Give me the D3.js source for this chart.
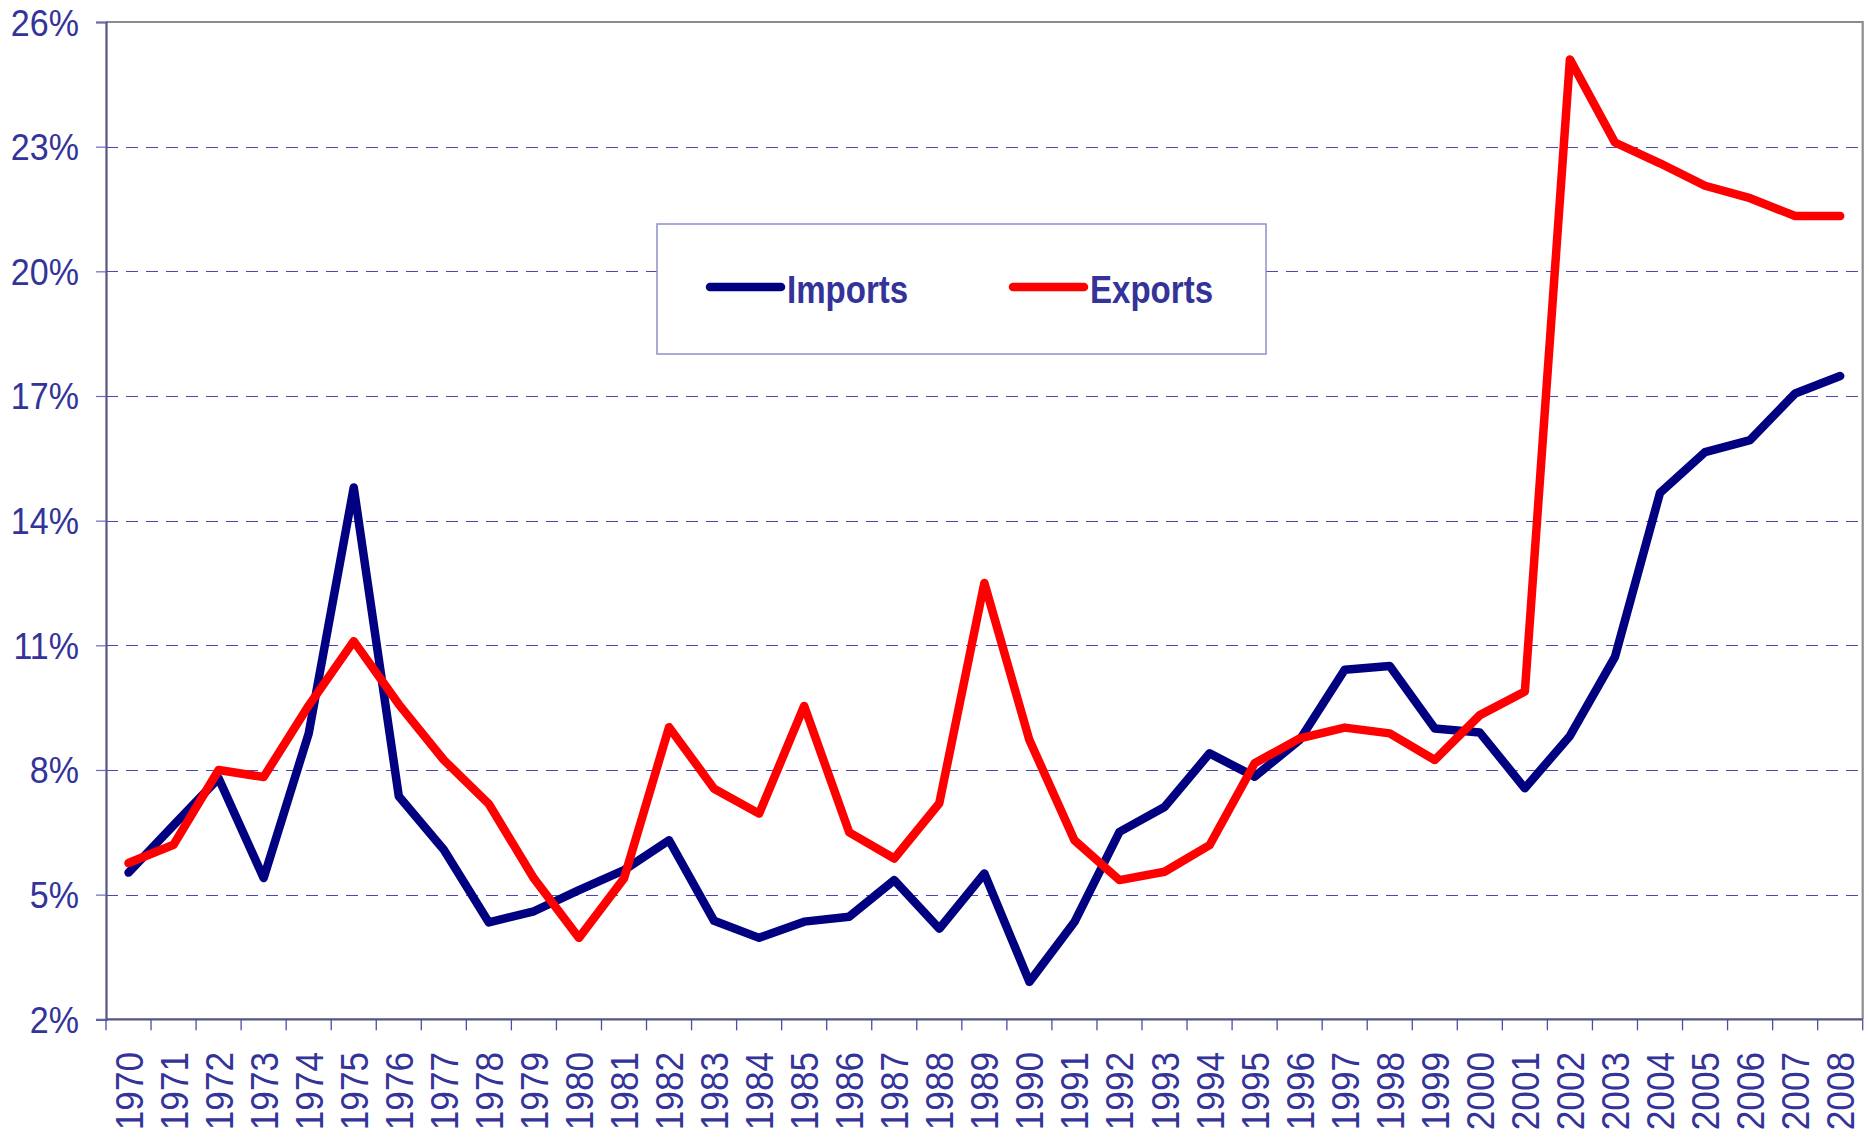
<!DOCTYPE html>
<html>
<head>
<meta charset="utf-8">
<script src="https://cdn.jsdelivr.net/npm/d3@7"></script>
<style>
html,body{margin:0;padding:0;background:#fff;}
svg{display:block;}
text{font-family:"Liberation Sans",Arial,sans-serif;fill:#333399;}
</style>
</head>
<body>
<svg id="chart" width="1869" height="1137"></svg>
<script>
const years = d3.range(1970, 2009).map(String);
const imports = [5.53, 6.67, 7.8, 5.4, 8.88, 14.8, 7.37, 6.08, 4.33, 4.6,
                 5.11, 5.59, 6.31, 4.37, 3.96, 4.35, 4.47, 5.35, 4.18, 5.51,
                 2.9, 4.34, 6.51, 7.11, 8.4, 7.84, 8.72, 10.41, 10.5, 9.0,
                 8.9, 7.56, 8.82, 10.72, 14.67, 15.65, 15.94, 17.06, 17.48];
const exports = [5.76, 6.2, 8.0, 7.83, 9.55, 11.1, 9.58, 8.24, 7.18, 5.39,
                 3.96, 5.39, 9.03, 7.55, 6.95, 9.54, 6.5, 5.87, 7.2, 12.5,
                 8.72, 6.31, 5.35, 5.55, 6.19, 8.16, 8.76, 9.02, 8.88, 8.24,
                 9.32, 9.89, 25.1, 23.1, 22.6, 22.06, 21.76, 21.33, 21.33];
const yTicks = [2, 5, 8, 11, 14, 17, 20, 23, 26];
const seriesNames = ["Imports", "Exports"];
const seriesColors = ["#000080", "#ff0000"];

const L = 106, R = 1862.7, T = 22, B = 1019.3;
const svg = d3.select("#chart");
const x = d3.scaleBand().domain(years).range([L, R]).padding(0);
const y = d3.scaleLinear().domain([2, 26]).range([B, T]);
const cx = d => x(d) + x.bandwidth() / 2;

// gridlines
svg.append("g").selectAll("line").data(yTicks.filter(v => v > 2 && v < 26)).join("line")
  .attr("x1", L).attr("x2", R)
  .attr("y1", d => Math.round(y(d)) + 0.5).attr("y2", d => Math.round(y(d)) + 0.5)
  .attr("stroke", "#4848b0").attr("stroke-width", 1.2).attr("stroke-dasharray", "12,8");

// top & right border
svg.append("path")
  .attr("d", `M${L},${T}H${R}V${B}`)
  .attr("fill", "none").attr("stroke", "#8c8c8c").attr("stroke-width", 2.2);

// y axis
const yAxis = d3.axisLeft(y).tickValues(yTicks).tickSize(10).tickFormat(d => d + "%");
const gy = svg.append("g").attr("transform", `translate(${L},0)`).call(yAxis);
gy.select(".domain").attr("stroke", "#555580").attr("stroke-width", 2.2);
gy.selectAll(".tick line").attr("stroke", "#6a6ac0").attr("stroke-width", 1.2);
gy.selectAll(".tick text")
  .attr("x", 0).attr("dy", null)
  .attr("transform", "translate(-27,13) scale(0.92,1)")
  .style("font-size", "37px").attr("fill", "#333399").attr("text-anchor", "end");

// x axis
const gx = svg.append("g").attr("transform", `translate(0,${B})`);
gx.append("line").attr("x1", L).attr("x2", R).attr("y1", 0).attr("y2", 0)
  .attr("stroke", "#555580").attr("stroke-width", 2.2);
gx.selectAll("line.tk").data(years.concat(["end"])).join("line").attr("class", "tk")
  .attr("x1", d => d === "end" ? R : x(d)).attr("x2", d => d === "end" ? R : x(d))
  .attr("y1", 0).attr("y2", 11)
  .attr("stroke", "#4a4ab0").attr("stroke-width", 1.3);
gx.selectAll("text").data(years).join("text")
  .attr("transform", d => `translate(${cx(d) + 14},${1052 - B}) rotate(-90) scale(0.89,1)`)
  .attr("text-anchor", "end")
  .style("font-size", "39.5px")
  .text(d => d);

// lines
const line = d3.line().x((d, i) => cx(years[i])).y(d => y(d));
[imports, exports].forEach((s, k) => {
  svg.append("path").datum(s)
    .attr("d", line)
    .attr("fill", "none").attr("stroke", seriesColors[k])
    .attr("stroke-width", 8.5).attr("stroke-linejoin", "round").attr("stroke-linecap", "round");
});

// legend
const lg = svg.append("g");
lg.append("rect").attr("x", 657).attr("y", 224).attr("width", 609).attr("height", 130)
  .attr("fill", "#fff").attr("stroke", "#8f8fcc").attr("stroke-width", 1.5);
const legendX = [710, 1013];
seriesNames.forEach((n, k) => {
  lg.append("line").attr("x1", legendX[k]).attr("x2", legendX[k] + 71)
    .attr("y1", 287).attr("y2", 287)
    .attr("stroke", seriesColors[k]).attr("stroke-width", 8.5).attr("stroke-linecap", "round");
  lg.append("text")
    .attr("transform", `translate(${legendX[k] + 77},303) scale(0.87,1)`)
    .style("font-size", "38px").style("font-weight", "bold")
    .text(n);
});
</script>
</body>
</html>
